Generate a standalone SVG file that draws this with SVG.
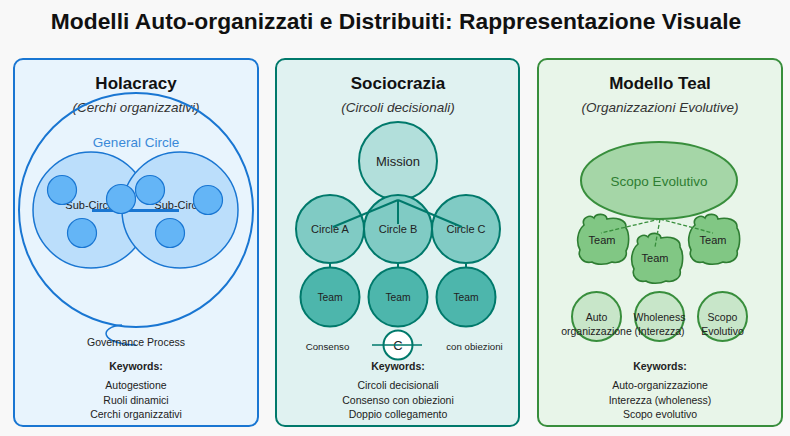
<svg xmlns="http://www.w3.org/2000/svg" width="790" height="436" viewBox="0 0 790 436">
<style>
text{font-family:"Liberation Sans",Arial,sans-serif;text-anchor:middle;fill:#222}
.title{font-size:22.8px;font-weight:bold;fill:#111}
.ptitle{font-size:17px;font-weight:bold;fill:#111}
.sub{font-size:13.5px;font-style:italic;fill:#333}
.kw{font-size:10.5px;font-weight:bold;fill:#222}
.item{font-size:10.5px;fill:#222}
.sm{font-size:11px;fill:#222}
.xs{font-size:9.7px;fill:#222}
.panel{stroke-width:2}
.blue{stroke:#1976d2}
.teal{stroke:#00796b}
.green{stroke:#388e3c}
.dot{fill:#64b5f6;stroke:#1976d2;stroke-width:1.2}
.subc{fill:#bbdefb;stroke:#1976d2;stroke-width:1.5}
.circ{fill:#80cbc4;stroke:#00796b;stroke-width:2}
.team{fill:#4db6ac;stroke:#00796b;stroke-width:2}
.cloud{fill:#81c784;stroke:#2e7d32;stroke-width:1.6}
.val{fill:#c8e6c9;stroke:#388e3c;stroke-width:2}
</style>
<defs>
<path id="cloudShape" d="M -19,-15 C -22,-22 -13,-26 -9,-22 C -7,-27 3,-27 4,-21 C 12,-23 24,-21 23,-12 C 27,-6 26,6 23,11 C 25,19 16,24 9,22 C 3,25 -7,25 -11,22 C -19,24 -26,17 -23,10 C -27,3 -26,-9 -19,-15 Z"/>
</defs>
<rect x="0" y="0" width="790" height="436" fill="#f8f8f8"/>
<text class="title" x="396" y="29">Modelli Auto-organizzati e Distribuiti: Rappresentazione Visuale</text>

<!-- Holacracy panel -->
<g id="holacracy">
<rect class="panel blue" x="14" y="59" width="244" height="367" rx="9" fill="#e8f4fd"/>
<text class="ptitle" x="136" y="89">Holacracy</text>
<text class="sub" x="136" y="112">(Cerchi organizzativi)</text>
<circle cx="136" cy="210" r="117" fill="none" stroke="#1976d2" stroke-width="2"/>
<text x="136" y="146.5" style="font-size:13.5px;fill:#3a89d8">General Circle</text>
<circle class="subc" cx="91" cy="210" r="58"/>
<text class="sm" x="91" y="209">Sub-Circle</text>
<circle class="subc" cx="180" cy="210" r="58"/>
<text class="sm" x="180" y="209">Sub-Circle</text>
<line x1="92" y1="210.5" x2="179" y2="210.5" stroke="#1976d2" stroke-width="3"/>
<circle class="dot" cx="62" cy="190" r="14.5"/>
<circle class="dot" cx="82" cy="233" r="14.5"/>
<circle class="dot" cx="121" cy="199" r="14.5"/>
<circle class="dot" cx="150" cy="190" r="14.5"/>
<circle class="dot" cx="170" cy="233" r="14.5"/>
<circle class="dot" cx="208" cy="200" r="14.5"/>
<path d="M 122 325 C 98 327, 100 344, 136 345" fill="none" stroke="#1976d2" stroke-width="1.5"/>
<text class="item" x="136" y="346">Governance Process</text>
<text class="kw" x="136" y="370">Keywords:</text>
<text class="item" x="136" y="389">Autogestione</text>
<text class="item" x="136" y="404">Ruoli dinamici</text>
<text class="item" x="136" y="418">Cerchi organizzativi</text>
</g>

<!-- Sociocrazia panel -->
<g id="sociocrazia">
<rect class="panel teal" x="276" y="59" width="243" height="367" rx="9" fill="#e0f2f1"/>
<text class="ptitle" x="398" y="89">Sociocrazia</text>
<text class="sub" x="398" y="112">(Circoli decisionali)</text>
<g id="mission"><circle cx="398" cy="161" r="39" fill="#b2dfdb" stroke="#00796b" stroke-width="2"/>
<text x="398" y="165.5" style="font-size:13px">Mission</text></g>
<g id="circleA"><circle class="circ" cx="330" cy="229" r="34"/><text class="sm" x="330" y="233">Circle A</text></g>
<g id="circleB"><circle class="circ" cx="398" cy="229" r="34"/><text class="sm" x="398" y="233">Circle B</text></g>
<g id="circleC"><circle class="circ" cx="466" cy="229" r="34"/><text class="sm" x="466" y="233">Circle C</text></g>
<g id="socio-connectors" stroke="#00796b" stroke-width="2">
<line x1="398" y1="200" x2="333" y2="227"/>
<line x1="398" y1="200" x2="398" y2="224"/>
<line x1="398" y1="200" x2="462" y2="227"/>
<line x1="330" y1="263" x2="330" y2="268"/>
<line x1="398" y1="263" x2="398" y2="268"/>
<line x1="466" y1="263" x2="466" y2="268"/>
</g>
<g id="teamA"><circle class="team" cx="330" cy="297" r="29.5"/><text x="330" y="301" style="font-size:10.3px">Team</text></g>
<g id="teamB"><circle class="team" cx="398" cy="297" r="29.5"/><text x="398" y="301" style="font-size:10.3px">Team</text></g>
<g id="teamC"><circle class="team" cx="466" cy="297" r="29.5"/><text x="466" y="301" style="font-size:10.3px">Team</text></g>
<text class="xs" x="327.5" y="350">Consenso</text>
<circle cx="398" cy="345" r="14.5" fill="#fff" stroke="#00796b" stroke-width="2"/>
<text x="398" y="350" style="font-size:13px">C</text>
<line x1="372" y1="345" x2="422" y2="345" stroke="#00796b" stroke-width="1.5"/>
<text class="xs" x="474.5" y="350">con obiezioni</text>
<text class="kw" x="398" y="370">Keywords:</text>
<text class="item" x="398" y="389">Circoli decisionali</text>
<text class="item" x="398" y="404">Consenso con obiezioni</text>
<text class="item" x="398" y="418">Doppio collegamento</text>
</g>

<!-- Teal panel -->
<g id="teal">
<rect class="panel green" x="538" y="59" width="244" height="367" rx="9" fill="#e8f5e9"/>
<text class="ptitle" x="660" y="89">Modello Teal</text>
<text class="sub" x="660" y="112">(Organizzazioni Evolutive)</text>
<g id="scopo"><ellipse cx="659" cy="180.5" rx="78" ry="38.5" fill="#a5d6a7" stroke="#388e3c" stroke-width="2"/>
<text x="659" y="185.5" style="font-size:13.5px;fill:#2e7d32">Scopo Evolutivo</text></g>
<g id="team1"><use href="#cloudShape" class="cloud" transform="translate(603,240)"/><text class="sm" x="602" y="244">Team</text></g>
<g id="team3"><use href="#cloudShape" class="cloud" transform="translate(714,240)"/><text class="sm" x="713" y="244">Team</text></g>
<g id="team2"><use href="#cloudShape" class="cloud" transform="translate(657,259)"/><text class="sm" x="655" y="262">Team</text></g>
<g id="teal-connectors" stroke="#388e3c" stroke-width="1.3" stroke-dasharray="4,2" fill="none">
<line x1="660" y1="219" x2="601" y2="233"/>
<line x1="660" y1="219" x2="655" y2="247"/>
<line x1="660" y1="219" x2="713" y2="233"/>
</g>
<g id="v1"><circle class="val" cx="596.5" cy="316.5" r="24.5"/><text class="item" x="596.5" y="321">Auto</text><text class="item" x="596.5" y="335">organizzazione</text></g>
<g id="v2"><circle class="val" cx="659.5" cy="316.5" r="24.5"/><text class="item" x="659.5" y="321">Wholeness</text><text class="item" x="659.5" y="335">(Interezza)</text></g>
<g id="v3"><circle class="val" cx="722.5" cy="316.5" r="24.5"/><text class="item" x="722.5" y="321">Scopo</text><text class="item" x="722.5" y="335">Evolutivo</text></g>
<text class="kw" x="660" y="370">Keywords:</text>
<text class="item" x="660" y="389">Auto-organizzazione</text>
<text class="item" x="660" y="404">Interezza (wholeness)</text>
<text class="item" x="660" y="418">Scopo evolutivo</text>
</g>
</svg>
